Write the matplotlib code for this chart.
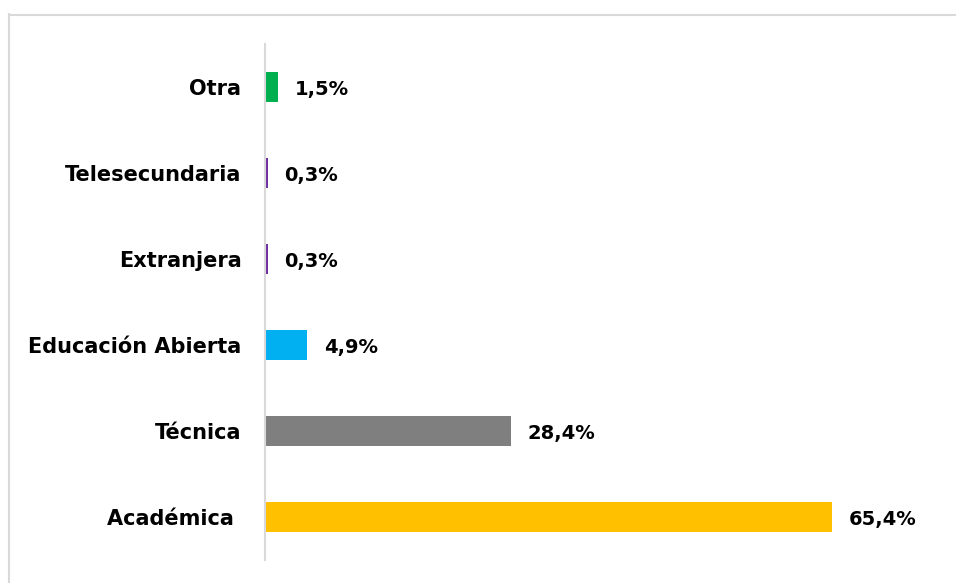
import matplotlib.pyplot as plt
from matplotlib.lines import Line2D

categorias = ['Académica ', 'Técnica', 'Educación Abierta', 'Extranjera', 'Telesecundaria', 'Otra']
porcentajes = [65.4, 28.4, 4.9, 0.3, 0.3, 1.5]
etiquetas = ['65,4%', '28,4%', '4,9%', '0,3%', '0,3%', '1,5%']
colores = ['#FFC000', '#7F7F7F', '#00B0F0', '#7030A0', '#7030A0', '#00B050']

W, H = 956, 583
fig = plt.figure(figsize=(W / 100, H / 100), dpi=100)
fig.patch.set_facecolor('white')

# marco gris claro (solo se ve arriba y a la izquierda)
fig.add_artist(Line2D([8.5 / W, 8.5 / W], [0, 1 - 14 / H], color='#D9D9D9', lw=1.5))
fig.add_artist(Line2D([8.5 / W, 1], [1 - 14.5 / H, 1 - 14.5 / H], color='#D9D9D9', lw=1.5))

ax = fig.add_axes([265 / W, 23 / H, (W - 265) / W, 516 / H])
ax.barh(range(len(categorias)), porcentajes, height=0.35, color=colores)

for i, (v, t) in enumerate(zip(porcentajes, etiquetas)):
    ax.annotate(t, (v, i), xytext=(12, -1.5), textcoords='offset points',
                va='center', ha='left', fontsize=14, fontweight='bold')

ax.set_xlim(0, 79.7)
ax.set_ylim(-0.5, 5.5)
ax.set_yticks(range(len(categorias)))
ax.set_yticklabels(categorias, fontsize=15, fontweight='bold')
ax.tick_params(axis='y', length=0, pad=17)
ax.set_xticks([])
for s in ['top', 'right', 'bottom']:
    ax.spines[s].set_visible(False)
ax.spines['left'].set_color('#D9D9D9')
ax.spines['left'].set_linewidth(1.5)
ax.patch.set_alpha(0)

plt.savefig('out.png', dpi=100)
